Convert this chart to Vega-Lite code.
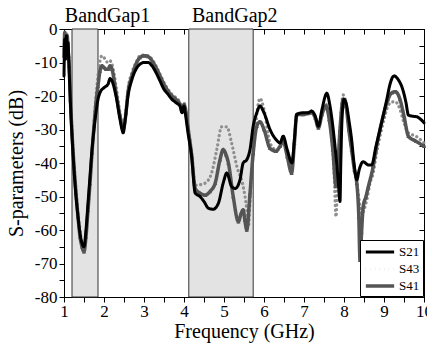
{
  "$schema": "https://vega.github.io/schema/vega-lite/v6.json",
  "width": 360,
  "height": 268,
  "autosize": {"type": "none"},
  "padding": {"left": 64, "top": 29, "right": 3, "bottom": 48},
  "background": "white",
  "datasets": {
    "bands": [{"x1": 1.2, "x2": 1.85}, {"x1": 4.12, "x2": 5.73}],
    "labels": [{"lx": 1.02, "ly": 2.1, "t": "BandGap1"}, {"lx": 4.2, "ly": 2.1, "t": "BandGap2"}],
    "s21": [
      {"f":1.00,"v":-14},{"f":1.02,"v":-3},{"f":1.04,"v":-9},{"f":1.06,"v":-2},{"f":1.08,"v":-6},{"f":1.10,"v":-4},
      {"f":1.13,"v":-13},{"f":1.16,"v":-22},{"f":1.20,"v":-32},{"f":1.25,"v":-42},{"f":1.30,"v":-50},{"f":1.35,"v":-56},
      {"f":1.40,"v":-61},{"f":1.45,"v":-64},{"f":1.50,"v":-65},{"f":1.55,"v":-60},{"f":1.60,"v":-52},{"f":1.65,"v":-44},
      {"f":1.70,"v":-36},{"f":1.75,"v":-30},{"f":1.80,"v":-25},{"f":1.85,"v":-21},{"f":1.90,"v":-19},{"f":2.00,"v":-17.5},
      {"f":2.10,"v":-16.5},{"f":2.15,"v":-14.8},{"f":2.20,"v":-15.5},{"f":2.30,"v":-20},{"f":2.40,"v":-27},{"f":2.45,"v":-30},
      {"f":2.48,"v":-31},{"f":2.52,"v":-28},{"f":2.60,"v":-20},{"f":2.70,"v":-15},{"f":2.80,"v":-12},{"f":2.90,"v":-10.5},
      {"f":3.00,"v":-10},{"f":3.10,"v":-10},{"f":3.20,"v":-11},{"f":3.30,"v":-13},{"f":3.40,"v":-15.5},{"f":3.50,"v":-18},
      {"f":3.60,"v":-19.5},{"f":3.70,"v":-21},{"f":3.80,"v":-22},{"f":3.90,"v":-23},{"f":3.95,"v":-25},{"f":4.00,"v":-23},
      {"f":4.03,"v":-25},{"f":4.10,"v":-31},{"f":4.19,"v":-38},{"f":4.28,"v":-49},{"f":4.40,"v":-50},{"f":4.50,"v":-51.5},
      {"f":4.61,"v":-53.5},{"f":4.73,"v":-53.8},{"f":4.86,"v":-52},{"f":4.98,"v":-46},{"f":5.07,"v":-43},{"f":5.19,"v":-47},
      {"f":5.28,"v":-47.6},{"f":5.40,"v":-45},{"f":5.48,"v":-40},{"f":5.57,"v":-39},{"f":5.65,"v":-36},{"f":5.73,"v":-29},
      {"f":5.82,"v":-25},{"f":5.90,"v":-23},{"f":6.00,"v":-25},{"f":6.15,"v":-30},{"f":6.30,"v":-33},{"f":6.40,"v":-34},
      {"f":6.48,"v":-32},{"f":6.58,"v":-36},{"f":6.70,"v":-40},{"f":6.76,"v":-33},{"f":6.82,"v":-25.5},{"f":6.98,"v":-25},
      {"f":7.10,"v":-25},{"f":7.19,"v":-24.5},{"f":7.28,"v":-26},{"f":7.36,"v":-29},{"f":7.45,"v":-24},{"f":7.57,"v":-19.2},
      {"f":7.65,"v":-23},{"f":7.73,"v":-30},{"f":7.80,"v":-38},{"f":7.86,"v":-46},{"f":7.90,"v":-51.5},{"f":7.92,"v":-40},
      {"f":7.95,"v":-27},{"f":8.00,"v":-21},{"f":8.05,"v":-22},{"f":8.12,"v":-27},{"f":8.19,"v":-33},{"f":8.25,"v":-40},
      {"f":8.32,"v":-45},{"f":8.38,"v":-42},{"f":8.48,"v":-39.6},{"f":8.61,"v":-40.6},{"f":8.69,"v":-40.6},{"f":8.80,"v":-35},
      {"f":8.90,"v":-30},{"f":9.07,"v":-21},{"f":9.15,"v":-16.5},{"f":9.25,"v":-14},{"f":9.35,"v":-15},{"f":9.48,"v":-18.5},
      {"f":9.55,"v":-22},{"f":9.61,"v":-25.7},{"f":9.70,"v":-26},{"f":9.82,"v":-26.2},{"f":9.92,"v":-27},{"f":10.00,"v":-28}
    ],
    "s43": [
      {"f":1.00,"v":-6},{"f":1.02,"v":-2},{"f":1.04,"v":-4},{"f":1.06,"v":-1},{"f":1.08,"v":-3},{"f":1.10,"v":-5},
      {"f":1.13,"v":-10},{"f":1.16,"v":-20},{"f":1.20,"v":-30},{"f":1.25,"v":-40},{"f":1.30,"v":-48},{"f":1.35,"v":-55},
      {"f":1.40,"v":-60},{"f":1.45,"v":-64},{"f":1.50,"v":-65},{"f":1.55,"v":-61},{"f":1.60,"v":-54},{"f":1.65,"v":-46},
      {"f":1.70,"v":-37},{"f":1.75,"v":-28},{"f":1.80,"v":-20},{"f":1.85,"v":-14},{"f":1.90,"v":-9.5},{"f":1.95,"v":-8},
      {"f":2.00,"v":-8.5},{"f":2.05,"v":-9.5},{"f":2.10,"v":-10},{"f":2.15,"v":-9.5},{"f":2.20,"v":-10.5},{"f":2.30,"v":-17},
      {"f":2.40,"v":-25},{"f":2.48,"v":-29},{"f":2.55,"v":-24},{"f":2.60,"v":-18},{"f":2.70,"v":-13},{"f":2.80,"v":-10},
      {"f":2.90,"v":-8},{"f":3.00,"v":-7.8},{"f":3.10,"v":-8},{"f":3.20,"v":-9},{"f":3.30,"v":-11},{"f":3.40,"v":-13.5},
      {"f":3.50,"v":-16},{"f":3.60,"v":-18},{"f":3.70,"v":-19.5},{"f":3.80,"v":-20.5},{"f":3.90,"v":-22},{"f":3.95,"v":-24},
      {"f":4.00,"v":-22},{"f":4.03,"v":-23},{"f":4.10,"v":-29},{"f":4.19,"v":-37},{"f":4.28,"v":-46.6},{"f":4.40,"v":-46.5},
      {"f":4.53,"v":-46},{"f":4.69,"v":-43},{"f":4.82,"v":-36},{"f":4.94,"v":-29.2},{"f":5.07,"v":-29.2},{"f":5.19,"v":-34},
      {"f":5.32,"v":-41},{"f":5.48,"v":-47},{"f":5.57,"v":-54},{"f":5.61,"v":-59},{"f":5.65,"v":-52},{"f":5.69,"v":-44},
      {"f":5.78,"v":-30},{"f":5.90,"v":-20.7},{"f":6.00,"v":-24},{"f":6.15,"v":-34},{"f":6.30,"v":-36},{"f":6.40,"v":-35.5},
      {"f":6.48,"v":-33},{"f":6.58,"v":-37},{"f":6.69,"v":-42},{"f":6.76,"v":-33},{"f":6.82,"v":-25.2},{"f":6.98,"v":-25.2},
      {"f":7.10,"v":-25},{"f":7.19,"v":-24.7},{"f":7.28,"v":-26},{"f":7.36,"v":-29.2},{"f":7.45,"v":-25},{"f":7.55,"v":-22.5},
      {"f":7.63,"v":-26},{"f":7.70,"v":-33},{"f":7.76,"v":-45},{"f":7.80,"v":-56},{"f":7.84,"v":-45},{"f":7.90,"v":-30},
      {"f":7.98,"v":-19.7},{"f":8.05,"v":-22},{"f":8.12,"v":-30},{"f":8.19,"v":-36},{"f":8.26,"v":-42},{"f":8.32,"v":-46},
      {"f":8.40,"v":-53},{"f":8.44,"v":-56},{"f":8.50,"v":-54},{"f":8.57,"v":-51},{"f":8.65,"v":-46},{"f":8.73,"v":-43},
      {"f":8.80,"v":-38},{"f":8.90,"v":-32},{"f":9.00,"v":-27},{"f":9.10,"v":-23},{"f":9.20,"v":-21.8},{"f":9.28,"v":-21.7},
      {"f":9.40,"v":-24},{"f":9.50,"v":-28},{"f":9.61,"v":-31},{"f":9.80,"v":-32},{"f":10.00,"v":-34}
    ],
    "s41": [
      {"f":1.00,"v":-8},{"f":1.02,"v":-1},{"f":1.04,"v":-6},{"f":1.06,"v":-3},{"f":1.08,"v":-2},{"f":1.10,"v":-6},
      {"f":1.13,"v":-11},{"f":1.16,"v":-21},{"f":1.20,"v":-31},{"f":1.25,"v":-41},{"f":1.30,"v":-49},{"f":1.35,"v":-56},
      {"f":1.40,"v":-62},{"f":1.45,"v":-65},{"f":1.50,"v":-66.5},{"f":1.55,"v":-62},{"f":1.60,"v":-54},{"f":1.65,"v":-46},
      {"f":1.70,"v":-37},{"f":1.75,"v":-29},{"f":1.80,"v":-22},{"f":1.85,"v":-17},{"f":1.90,"v":-12.5},{"f":1.95,"v":-11},
      {"f":2.00,"v":-11.5},{"f":2.05,"v":-12},{"f":2.10,"v":-12},{"f":2.15,"v":-11},{"f":2.20,"v":-12},{"f":2.30,"v":-19},
      {"f":2.40,"v":-26},{"f":2.48,"v":-30},{"f":2.55,"v":-25},{"f":2.60,"v":-19},{"f":2.70,"v":-14},{"f":2.80,"v":-10.5},
      {"f":2.90,"v":-8.5},{"f":3.00,"v":-8},{"f":3.10,"v":-8.2},{"f":3.20,"v":-9.5},{"f":3.30,"v":-11.5},{"f":3.40,"v":-14},
      {"f":3.50,"v":-16.5},{"f":3.60,"v":-18.5},{"f":3.70,"v":-20},{"f":3.80,"v":-21},{"f":3.90,"v":-22.5},{"f":3.95,"v":-24.5},
      {"f":4.00,"v":-22.5},{"f":4.03,"v":-23.5},{"f":4.10,"v":-29.5},{"f":4.19,"v":-37.5},{"f":4.28,"v":-47.6},{"f":4.40,"v":-49},
      {"f":4.53,"v":-49.6},{"f":4.65,"v":-48.5},{"f":4.78,"v":-46},{"f":4.90,"v":-39},{"f":4.98,"v":-36},{"f":5.05,"v":-37.5},
      {"f":5.11,"v":-40},{"f":5.23,"v":-50},{"f":5.36,"v":-57.5},{"f":5.43,"v":-55},{"f":5.48,"v":-54},{"f":5.52,"v":-57},
      {"f":5.57,"v":-60},{"f":5.65,"v":-49},{"f":5.73,"v":-37},{"f":5.82,"v":-29},{"f":5.90,"v":-27.7},{"f":6.00,"v":-30},
      {"f":6.15,"v":-35.6},{"f":6.30,"v":-36.5},{"f":6.40,"v":-35},{"f":6.48,"v":-33.5},{"f":6.58,"v":-38},{"f":6.69,"v":-43},
      {"f":6.76,"v":-34},{"f":6.82,"v":-25.5},{"f":6.98,"v":-25.5},{"f":7.10,"v":-25.2},{"f":7.19,"v":-25},{"f":7.28,"v":-26.5},
      {"f":7.36,"v":-29.5},{"f":7.45,"v":-25.5},{"f":7.55,"v":-23},{"f":7.63,"v":-27},{"f":7.72,"v":-36},{"f":7.80,"v":-47},
      {"f":7.84,"v":-42},{"f":7.90,"v":-30},{"f":7.98,"v":-21},{"f":8.05,"v":-23},{"f":8.12,"v":-30},{"f":8.19,"v":-36},
      {"f":8.26,"v":-42},{"f":8.32,"v":-46},{"f":8.37,"v":-56},{"f":8.40,"v":-69},{"f":8.44,"v":-60.6},{"f":8.48,"v":-53},
      {"f":8.55,"v":-50},{"f":8.61,"v":-47},{"f":8.73,"v":-41},{"f":8.80,"v":-36},{"f":8.90,"v":-30},{"f":9.00,"v":-25},
      {"f":9.10,"v":-21},{"f":9.20,"v":-19},{"f":9.28,"v":-18.7},{"f":9.40,"v":-21},{"f":9.50,"v":-26},{"f":9.61,"v":-32},
      {"f":9.80,"v":-33.5},{"f":10.00,"v":-35}
    ]
  },
  "layer": [
    {
      "data": {"name": "bands"},
      "mark": {"type": "rect", "fill": "#e3e3e3", "stroke": "#333333", "strokeWidth": 1},
      "encoding": {
        "x": {"field": "x1", "type": "quantitative", "scale": {"domain": [1, 10], "nice": false, "zero": false},
          "axis": {"orient": "top", "values": [1,1.5,2,2.5,3,3.5,4,4.5,5,5.5,6,6.5,7,7.5,8,8.5,9,9.5,10], "labels": false, "tickSize": -5, "title": null, "grid": false, "domainColor": "black", "tickColor": "black"}},
        "x2": {"field": "x2"},
        "y": {"datum": -80, "type": "quantitative", "scale": {"domain": [-80, 0], "nice": false, "zero": false},
          "axis": {"orient": "right", "values": [-80,-75,-70,-65,-60,-55,-50,-45,-40,-35,-30,-25,-20,-15,-10,-5,0], "labels": false, "tickSize": -5, "title": null, "grid": false, "domainColor": "black", "tickColor": "black"}},
        "y2": {"datum": 0}
      }
    },
    {
      "data": {"name": "s43"},
      "mark": {"type": "line", "strokeCap": "round", "interpolate": "monotone"},
      "encoding": {
        "x": {"field": "f", "type": "quantitative",
          "axis": {"orient": "bottom", "values": [1,1.5,2,2.5,3,3.5,4,4.5,5,5.5,6,6.5,7,7.5,8,8.5,9,9.5,10],
            "labelExpr": "datum.value % 1 === 0 ? '' + datum.value : ''", "tickSize": 5, "tickColor": "black", "domainColor": "black",
            "labelColor": "black", "labelFont": "Liberation Serif, Times New Roman, serif", "labelFontSize": 17, "labelPadding": 1, "labelFlush": false, "labelOverlap": false,
            "title": "Frequency (GHz)", "titleFont": "Liberation Serif, Times New Roman, serif", "titleFontSize": 20, "titleFontWeight": "normal", "titleColor": "black", "titlePadding": 2, "grid": false}},
        "y": {"field": "v", "type": "quantitative",
          "axis": {"orient": "left", "values": [-80,-75,-70,-65,-60,-55,-50,-45,-40,-35,-30,-25,-20,-15,-10,-5,0],
            "labelExpr": "datum.value % 10 === 0 ? '' + datum.value : ''", "tickSize": 5, "tickColor": "black", "domainColor": "black",
            "labelColor": "black", "labelFont": "Liberation Serif, Times New Roman, serif", "labelFontSize": 17, "labelPadding": 2, "labelOverlap": false,
            "title": "S-parameters (dB)", "titleFont": "Liberation Serif, Times New Roman, serif", "titleFontSize": 20, "titleFontWeight": "normal", "titleColor": "black", "titlePadding": 8, "grid": false}},
        "color": {"datum": "S43", "type": "nominal", "scale": {"domain": ["S21", "S43", "S41"], "range": ["#000000", "#8e8e8e", "#555555"]}, "legend": {"title": null}},
        "strokeDash": {"datum": "S43", "type": "nominal", "scale": {"domain": ["S21", "S43", "S41"], "range": [[1, 0], [0.1, 4.5], [1, 0]]}, "legend": {"title": null}},
        "strokeWidth": {"datum": "S43", "type": "nominal", "scale": {"domain": ["S21", "S43", "S41"], "range": [3, 3.5, 2]}, "legend": {"title": null}}
      }
    },
    {
      "data": {"name": "s41"},
      "mark": {"type": "line", "strokeCap": "round", "interpolate": "monotone"},
      "encoding": {
        "x": {"field": "f", "type": "quantitative", "axis": null},
        "y": {"field": "v", "type": "quantitative", "axis": null},
        "color": {"datum": "S41", "type": "nominal"},
        "strokeDash": {"datum": "S41", "type": "nominal"},
        "strokeWidth": {"datum": "S41", "type": "nominal"}
      }
    },
    {
      "data": {"name": "s41"},
      "mark": {"type": "point", "shape": "triangle-up", "filled": true, "size": 18, "color": "#555555", "opacity": 1},
      "encoding": {
        "x": {"field": "f", "type": "quantitative", "axis": null},
        "y": {"field": "v", "type": "quantitative", "axis": null}
      }
    },
    {
      "data": {"name": "s21"},
      "mark": {"type": "line", "strokeCap": "round", "interpolate": "monotone"},
      "encoding": {
        "x": {"field": "f", "type": "quantitative", "axis": null},
        "y": {"field": "v", "type": "quantitative", "axis": null},
        "color": {"datum": "S21", "type": "nominal"},
        "strokeDash": {"datum": "S21", "type": "nominal"},
        "strokeWidth": {"datum": "S21", "type": "nominal"}
      }
    },
    {
      "data": {"name": "labels"},
      "mark": {"type": "text", "align": "left", "baseline": "alphabetic", "fontSize": 20, "color": "black"},
      "encoding": {
        "x": {"field": "lx", "type": "quantitative", "axis": null},
        "y": {"field": "ly", "type": "quantitative", "axis": null},
        "text": {"field": "t"}
      }
    }
  ],
  "resolve": {"axis": {"x": "independent", "y": "independent"}},
  "config": {
    "font": "Liberation Serif, Times New Roman, serif",
    "view": {"stroke": "black"},
    "text": {"font": "Liberation Serif, Times New Roman, serif"},
    "axis": {"labelFont": "Liberation Serif, Times New Roman, serif", "titleFont": "Liberation Serif, Times New Roman, serif"},
    "legend": {"orient": "bottom-right", "offset": 1, "strokeColor": "black", "fillColor": "white", "padding": 3,
      "labelFont": "Liberation Serif, Times New Roman, serif", "labelFontSize": 13, "labelColor": "black",
      "symbolType": "M-2,0L2,0", "symbolSize": 200, "rowPadding": 1, "labelOffset": 10, "symbolOffset": 8}
  }
}
